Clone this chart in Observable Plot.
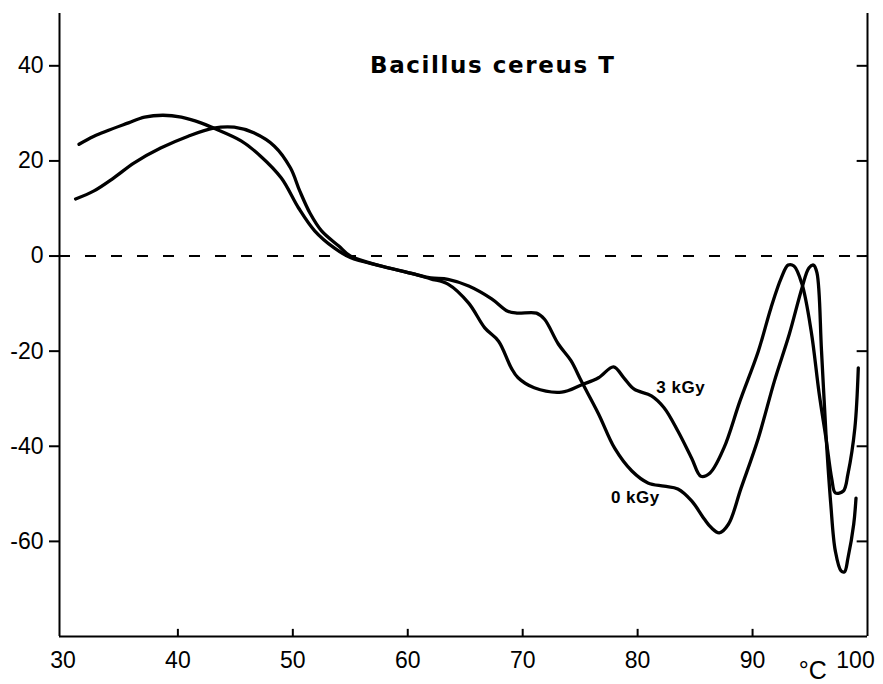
<!DOCTYPE html>
<html>
<head>
<meta charset="utf-8">
<script src="https://cdn.jsdelivr.net/npm/d3@7"></script>
<script src="https://cdn.jsdelivr.net/npm/@observablehq/plot@0.6"></script>
<style>
  html, body { margin: 0; padding: 0; background: #fff; }
  .title-mark text { letter-spacing: 1.6px; }
  .series-label text { letter-spacing: 0.5px; }
</style>
</head>
<body>
<div id="chart"></div>
<script>
// ---- data ----
const titleText = "Bacillus cereus T";
const xTickValues = [30, 40, 50, 60, 70, 80, 90];
const xInnerTicks = [40, 50, 60, 70, 80, 90];
const yTickValues = [-60, -40, -20, 0, 20, 40];
const xDomain = [29.7, 100];
const yDomain = [-80, 51];
const xUnitLabel = "°C";
const lastXLabel = "100";

const temp0 = [31.1, 32.7, 34.4, 36.2, 38.5, 40.9, 43.1, 44.9, 46.6, 48.4, 49.8, 50.6, 51.5, 52.5, 54.0, 55.0, 57.7, 60.6, 62.0, 63.5, 65.3, 67.3, 68.7, 69.5, 71.2, 71.9, 73.1, 74.2, 75.1, 76.6, 78.0, 79.5, 80.9, 82.3, 83.5, 84.7, 85.8, 86.4, 87.1, 87.9, 89.0, 90.5, 91.9, 93.2, 94.3, 94.9, 95.3, 95.6, 96.0, 96.4, 96.8, 97.2, 97.7, 98.0, 98.3, 98.8, 99.0];
const val0  = [12.0, 13.7, 16.4, 19.6, 22.7, 25.2, 26.9, 27.1, 25.9, 23.1, 18.5, 13.7, 9.0, 5.3, 2.1, 0.0, -2.1, -3.8, -4.6, -4.9, -6.3, -9.0, -11.6, -12.0, -12.0, -13.3, -18.5, -22.0, -26.3, -33.2, -40.4, -45.2, -47.7, -48.4, -49.0, -51.5, -55.3, -57.1, -58.2, -56.4, -48.8, -38.3, -26.3, -16.4, -6.7, -2.5, -1.9, -3.5, -20.0, -38.0, -52.0, -62.0, -66.2, -66.4, -63.5, -56.4, -50.9];

const temp3 = [31.4, 32.7, 35.7, 37.1, 38.7, 40.3, 42.0, 43.1, 45.5, 47.2, 49.0, 50.5, 51.9, 53.6, 55.0, 57.7, 60.6, 62.0, 63.5, 65.3, 66.7, 67.9, 69.0, 69.6, 71.0, 73.4, 75.1, 76.6, 77.9, 78.8, 79.7, 81.2, 82.3, 83.5, 84.7, 85.5, 86.3, 87.5, 88.9, 90.5, 91.6, 92.5, 93.1, 93.6, 94.3, 95.1, 95.8, 96.4, 96.9, 97.2, 97.9, 98.3, 98.9, 99.2];
const val3  = [23.5, 25.2, 28.0, 29.2, 29.6, 29.2, 28.0, 26.9, 24.2, 21.0, 16.4, 10.1, 5.3, 1.7, -0.3, -2.1, -3.8, -4.8, -5.9, -9.9, -15.1, -17.9, -23.5, -25.6, -27.7, -28.6, -27.1, -25.6, -23.3, -25.6, -28.0, -29.4, -31.9, -36.8, -42.5, -46.3, -45.6, -40.4, -30.5, -20.0, -10.9, -4.6, -1.9, -2.1, -5.9, -15.8, -29.0, -38.5, -47.0, -49.8, -49.4, -45.8, -36.2, -23.5];

const seriesNames = ["0 kGy", "3 kGy"];

// table built from the arrays
const rows = [
  ...temp0.map((t, i) => ({series: seriesNames[0], t, v: val0[i]})),
  ...temp3.map((t, i) => ({series: seriesNames[1], t, v: val3[i]}))
];

const labelRows = [
  {name: seriesNames[1], t: 83.75, v: -27.6},
  {name: seriesNames[0], t: 79.8, v: -50.8}
];

const chart = Plot.plot({
  width: 883,
  height: 684,
  marginLeft: 59,
  marginRight: 16,
  marginTop: 13,
  marginBottom: 48,
  x: {domain: xDomain},
  y: {domain: yDomain},
  style: {
    fontFamily: "'Liberation Sans', Arial, Helvetica, sans-serif",
    background: "#fff",
    color: "#000",
    overflow: "visible"
  },
  marks: [
    // frame lines (left, right, bottom)
    Plot.ruleX(xDomain, {stroke: "#000", strokeWidth: 2}),
    Plot.ruleY([yDomain[0]], {stroke: "#000", strokeWidth: 2}),
    // dashed zero line
    Plot.ruleY([0], {stroke: "#000", strokeWidth: 2, strokeDasharray: "11,15"}),
    // left y axis
    Plot.axisY({ticks: yTickValues, tickSize: 10, tickPadding: 6, tickFormat: d => String(d), fontSize: 23, strokeWidth: 2, label: null}),
    // right axis inward ticks
    Plot.ruleY(yTickValues, {x1: 99.1, x2: 100, stroke: "#000", strokeWidth: 2}),
    // bottom axis labels and inward ticks
    Plot.axisX({ticks: xTickValues, tickSize: 0, tickPadding: 15, tickFormat: d => String(d), fontSize: 23, label: null}),
    Plot.ruleX(xInnerTicks, {y1: yDomain[0], y2: yDomain[0] + 1.5, stroke: "#000", strokeWidth: 2}),
    Plot.text([lastXLabel], {x: 100, y: yDomain[0], dx: -12, dy: 15, lineAnchor: "top", fontSize: 23, fill: "#000"}),
    Plot.text([xUnitLabel], {x: 95.25, y: yDomain[0], dy: 25, lineAnchor: "top", fontSize: 25, fill: "#000"}),
    // curves
    Plot.line(rows, {x: "t", y: "v", z: "series", stroke: "#000", strokeWidth: 3.3, curve: "catmull-rom"}),
    // series labels
    Plot.text(labelRows, {x: "t", y: "v", text: "name", fontSize: 17, fontWeight: "bold", fill: "#000", className: "series-label"}),
    // title
    Plot.text([titleText], {x: 67.4, y: 40, fontSize: 23, fontWeight: "bold", fontFamily: "'DejaVu Sans', sans-serif", fill: "#000", className: "title-mark"})
  ]
});
document.getElementById("chart").appendChild(chart);
</script>
</body>
</html>
